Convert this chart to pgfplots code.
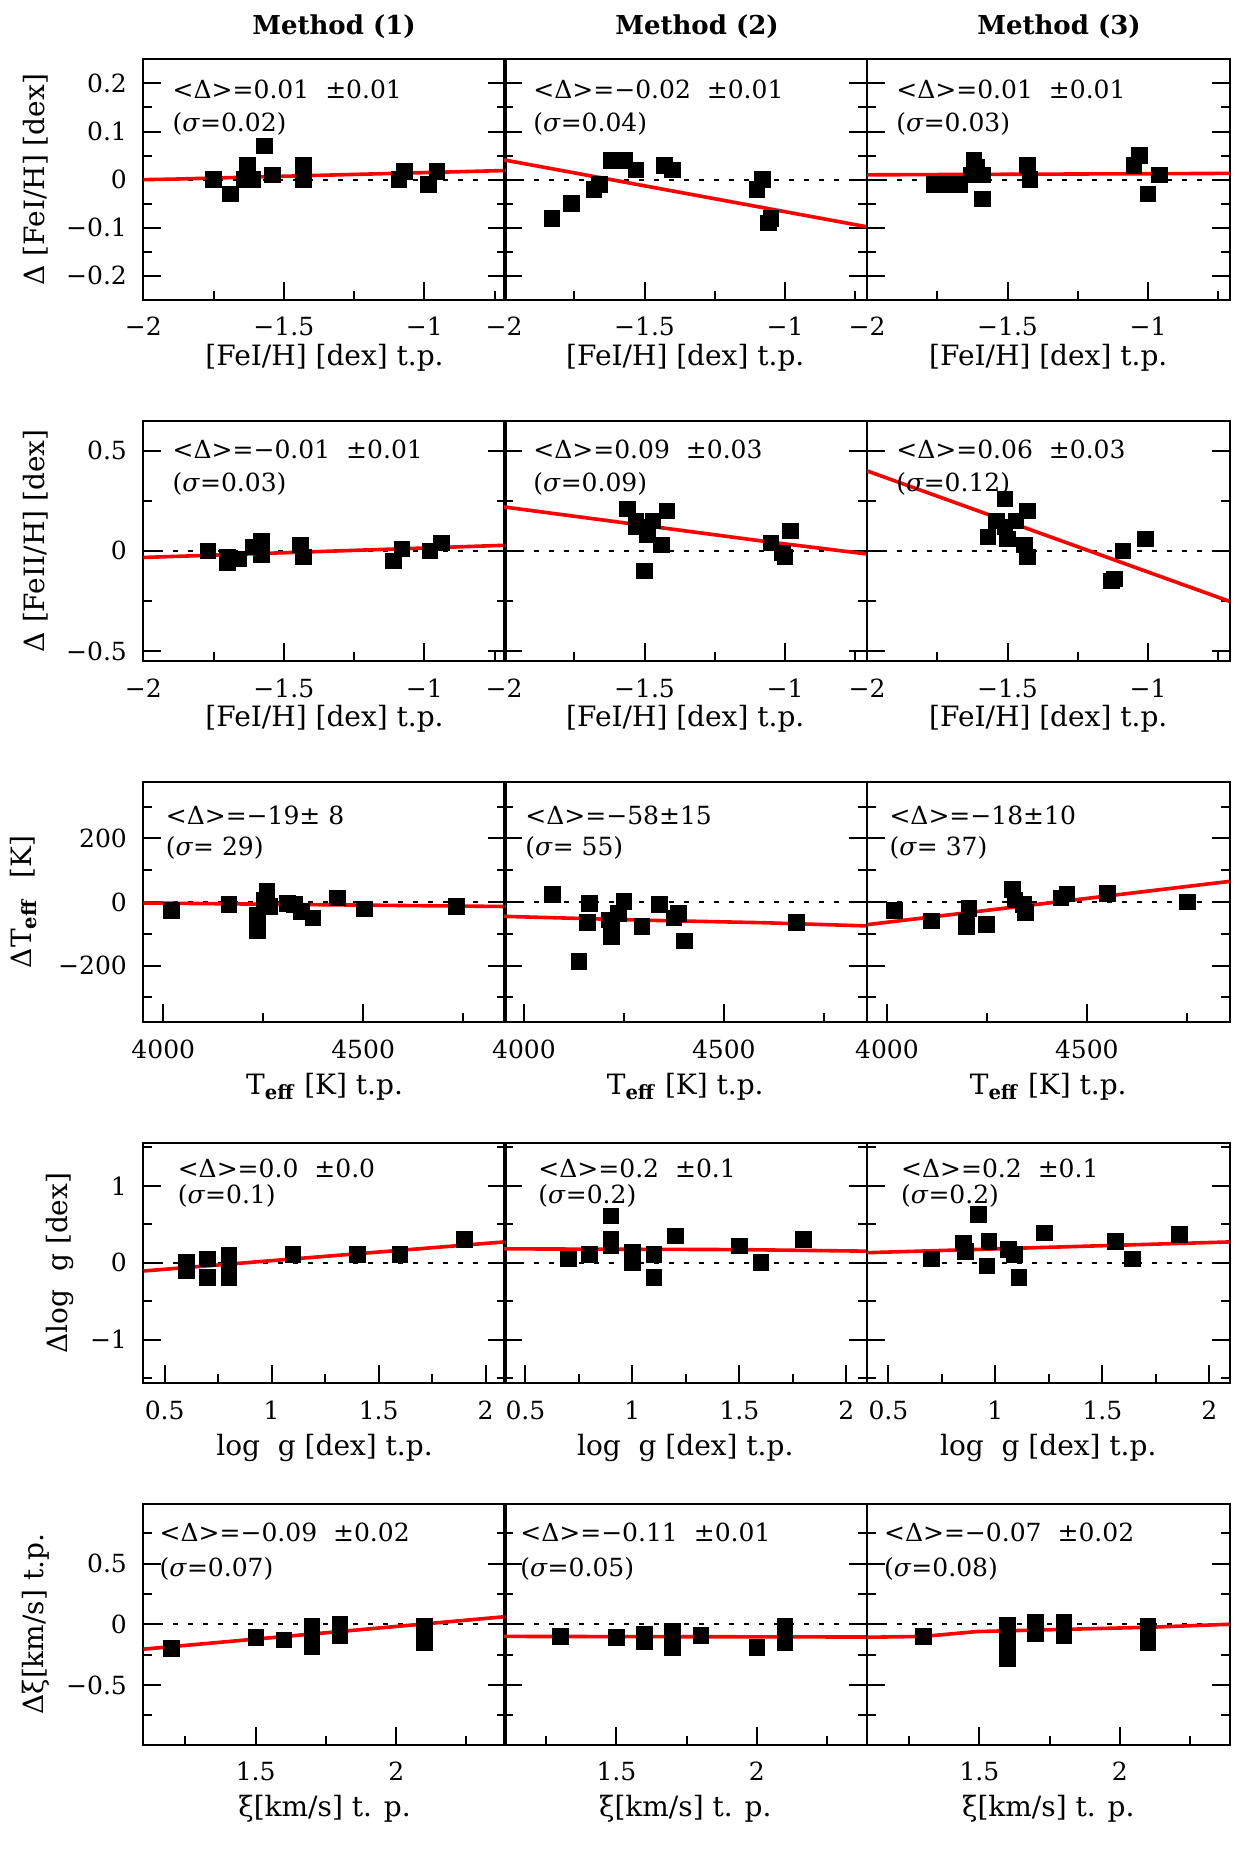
\documentclass[border=0pt]{standalone}
\usepackage{fontspec}
\setmainfont{DejaVu Serif}
\usepackage{pgfplots}
\pgfplotsset{compat=1.18}

\newcommand{\lbl}{\fontsize{12.5}{14}\selectfont}
\newcommand{\albl}{\fontsize{14}{16}\selectfont}
% two lines of statistics in a panel
\newcommand{\stats}[5]{%
  \node[annot] at (rel axis cs:#1,#2) {#4};
  \node[annot] at (rel axis cs:#1,#3) {#5};}

\tikzset{annot/.style={anchor=west, font=\lbl, inner sep=0pt}}

\pgfplotsset{
  panel/.style={
    scale only axis, width=181.25pt, height=120.25pt, anchor=north west,
    axis line style={line width=1pt},
    tick style={black, line width=1pt},
    major tick length=9pt, minor tick length=4.5pt,
    tick align=inside, xtick pos=bottom, ytick pos=both, yticklabel pos=left,
    xticklabel style={font=\lbl, inner sep=0pt},
    yticklabel style={font=\lbl, inner sep=0pt},
    xticklabel shift=8.5pt, yticklabel shift=8pt,
    label style={font=\albl},
    xlabel style={at={(axis description cs:0.5,-0.272)}, anchor=base},
    ylabel style={anchor=center},
  },
  later/.style={xlabel style={at={(axis description cs:0.5,-0.30)}}},
  noy/.style={yticklabels={}},
  zero/.style={black, line width=1.1pt, dash pattern=on 2.5pt off 5pt, no marks},
  fit/.style={red, line width=1.8pt, no marks},
  pts/.style={only marks, mark=square*, mark size=3.9pt, black},
  feh/.style={xmin=-2, xmax=-0.71, xtick={-2,-1.5,-1}, xticklabels={−2,−1.5,−1},
    minor xtick={-1.75,-1.25,-0.75}, xlabel={[FeI/H] [dex] t.p.}},
  rowone/.style={feh, ymin=-0.25, ymax=0.25, ytick={-0.2,-0.1,0,0.1,0.2},
    yticklabels={−0.2,−0.1,0,0.1,0.2}, minor ytick={-0.15,-0.05,0.05,0.15}},
  rowtwo/.style={feh, ymin=-0.55, ymax=0.65, ytick={-0.5,0,0.5},
    yticklabels={−0.5,0,0.5}, minor ytick={-0.25,0.25}},
  rowthree/.style={later, xmin=3950, xmax=4857, xtick={4000,4500}, xticklabels={4000,4500},
    minor xtick={4250,4750}, ymin=-378, ymax=378, ytick={-200,0,200},
    yticklabels={−200,0,200}, minor ytick={-300,-100,100,300},
    xlabel={T\textsubscript{\textbf{eff}} [K] t.p.}},
  rowfour/.style={later, xmin=0.4, xmax=2.094, xtick={0.5,1,1.5,2}, xticklabels={0.5,1,1.5,2},
    minor xtick={0.75,1.25,1.75}, ymin=-1.57, ymax=1.56, ytick={-1,0,1},
    yticklabels={−1,0,1}, minor ytick={-1.5,-0.5,0.5,1.5},
    xlabel={log\ \ g [dex] t.p.}},
  rowfive/.style={later, xmin=1.1, xmax=2.39, xtick={1.5,2}, xticklabels={1.5,2},
    minor xtick={1.25,1.75,2.25}, ymin=-0.99, ymax=0.99, ytick={-0.5,0,0.5},
    yticklabels={−0.5,0,0.5}, minor ytick={-0.75,-0.25,0.25,0.75},
    xlabel={ξ[km/s] t. p.}},
}

\begin{document}
\begin{tikzpicture}
\useasboundingbox (0,0) rectangle (622pt,-925pt);

\node[font=\bfseries\fontsize{13}{15}\selectfont] at (167pt,-13.5pt) {Method (1)};
\node[font=\bfseries\fontsize{13}{15}\selectfont] at (348.5pt,-13.5pt) {Method (2)};
\node[font=\bfseries\fontsize{13}{15}\selectfont] at (529.5pt,-13.5pt) {Method (3)};

% ---------------- row 1: Delta [FeI/H]
\begin{axis}[panel, rowone, at={(71.65pt,-29.7pt)},
  ylabel={Δ [FeI/H] [dex]}, ylabel style={at={(axis description cs:-0.298,0.5)}}]
\addplot[zero] coordinates {(-2,0) (-0.71,0)};
\addplot[fit] coordinates {(-2,0.0) (-1.9,0.001) (-0.71,0.019)};
\addplot[pts] coordinates {(-1.75,0.00) (-1.69,-0.03) (-1.63,0.03) (-1.64,0.00) (-1.61,0.00)
  (-1.57,0.07) (-1.54,0.01) (-1.43,0.03) (-1.43,0.00) (-1.07,0.017) (-1.09,0.00)
  (-0.985,-0.01) (-0.955,0.017)};
\stats{0.08}{0.875}{0.733}{<Δ>=0.01\hspace{8pt}±0.01}{(\textit{σ}=0.02)}
\end{axis}

\begin{axis}[panel, rowone, noy, at={(252pt,-29.7pt)}]
\addplot[zero] coordinates {(-2,0) (-0.71,0)};
\addplot[fit] coordinates {(-2,0.041) (-0.7,-0.099)};
\addplot[pts] coordinates {(-1.83,-0.08) (-1.76,-0.05) (-1.68,-0.02) (-1.66,-0.01) (-1.62,0.04)
  (-1.57,0.04) (-1.53,0.02) (-1.43,0.03) (-1.40,0.02) (-1.10,-0.02) (-1.08,0.00)
  (-1.06,-0.09) (-1.05,-0.08)};
\stats{0.08}{0.875}{0.733}{<Δ>=−0.02\hspace{8pt}±0.01}{(\textit{σ}=0.04)}
\end{axis}

\begin{axis}[panel, rowone, noy, at={(433.5pt,-29.7pt)}]
\addplot[zero] coordinates {(-2,0) (-0.71,0)};
\addplot[fit] coordinates {(-2,0.01) (-0.71,0.013)};
\addplot[pts] coordinates {(-1.76,-0.01) (-1.70,-0.01) (-1.67,-0.01) (-1.62,0.04) (-1.61,0.025)
  (-1.63,0.01) (-1.59,0.01) (-1.59,-0.04) (-1.43,0.03) (-1.42,0.00) (-1.05,0.03)
  (-1.03,0.05) (-1.00,-0.03) (-0.96,0.01)};
\stats{0.08}{0.875}{0.733}{<Δ>=0.01\hspace{8pt}±0.01}{(\textit{σ}=0.03)}
\end{axis}

% ---------------- row 2: Delta [FeII/H]
\begin{axis}[panel, rowtwo, at={(71.65pt,-210.3pt)},
  ylabel={Δ [FeII/H] [dex]}, ylabel style={at={(axis description cs:-0.298,0.5)}}]
\addplot[zero] coordinates {(-2,0) (-0.71,0)};
\addplot[fit] coordinates {(-2,-0.033) (-0.71,0.028)};
\addplot[pts] coordinates {(-1.77,0.00) (-1.70,-0.03) (-1.70,-0.06) (-1.66,-0.04) (-1.61,0.02)
  (-1.58,0.05) (-1.58,-0.02) (-1.44,0.03) (-1.43,-0.03) (-1.11,-0.05) (-1.08,0.01)
  (-0.98,0.00) (-0.94,0.04)};
\stats{0.08}{0.879}{0.738}{<Δ>=−0.01\hspace{8pt}±0.01}{(\textit{σ}=0.03)}
\end{axis}

\begin{axis}[panel, rowtwo, noy, at={(252pt,-210.3pt)}]
\addplot[zero] coordinates {(-2,0) (-0.71,0)};
\addplot[fit] coordinates {(-2,0.219) (-1.06,0.045) (-0.7,-0.017)};
\addplot[pts] coordinates {(-1.56,0.21) (-1.53,0.15) (-1.53,0.12) (-1.51,0.12) (-1.49,0.08)
  (-1.47,0.15) (-1.42,0.20) (-1.44,0.03) (-1.50,-0.10) (-1.05,0.04) (-1.01,-0.01)
  (-1.00,-0.03) (-0.98,0.10)};
\stats{0.08}{0.879}{0.738}{<Δ>=0.09\hspace{8pt}±0.03}{(\textit{σ}=0.09)}
\end{axis}

\begin{axis}[panel, rowtwo, noy, at={(433.5pt,-210.3pt)}]
\addplot[zero] coordinates {(-2,0) (-0.71,0)};
\addplot[fit] coordinates {(-2,0.399) (-0.706,-0.254)};
\addplot[pts] coordinates {(-1.51,0.26) (-1.57,0.07) (-1.54,0.15) (-1.51,0.12) (-1.50,0.06)
  (-1.47,0.15) (-1.43,0.20) (-1.44,0.03) (-1.43,-0.03) (-1.13,-0.15) (-1.12,-0.14)
  (-1.09,0.00) (-1.01,0.06)};
\stats{0.08}{0.879}{0.738}{<Δ>=0.06\hspace{8pt}±0.03}{(\textit{σ}=0.12)}
\end{axis}

% ---------------- row 3: Delta Teff
\begin{axis}[panel, rowthree, at={(71.65pt,-390.9pt)},
  ylabel={ΔT\textsubscript{\textbf{eff}}\hspace{10pt}[K]}, ylabel style={at={(axis description cs:-0.33,0.5)}}]
\addplot[zero] coordinates {(3950,0) (4857,0)};
\addplot[fit] coordinates {(3950,-3) (4857,-14)};
\addplot[pts] coordinates {(4021,-26) (4164,-8) (4235,-40) (4235,-90) (4259,34) (4252,7)
  (4267,-14) (4311,-5) (4328,-8) (4345,-29) (4374,-50) (4435,13) (4503,-22) (4733,-14)};
\stats{0.061}{0.86}{0.725}{<Δ>=−19± 8}{(\textit{σ}= 29)}
\end{axis}

\begin{axis}[panel, rowthree, noy, at={(252pt,-390.9pt)}]
\addplot[zero] coordinates {(3950,0) (4857,0)};
\addplot[fit] coordinates {(3950,-45) (4300,-57) (4600,-65) (4857,-75)};
\addplot[pts] coordinates {(4071,25) (4137,-187) (4158,-64) (4164,-5) (4214,-56) (4218,-108)
  (4218,-82) (4236,-35) (4250,2) (4295,-77) (4339,-8) (4375,-50) (4387,-35)
  (4402,-122) (4682,-64)};
\stats{0.058}{0.86}{0.725}{<Δ>=−58±15}{(\textit{σ}= 55)}
\end{axis}

\begin{axis}[panel, rowthree, noy, at={(433.5pt,-390.9pt)}]
\addplot[zero] coordinates {(3950,0) (4857,0)};
\addplot[fit] coordinates {(3950,-71) (4857,65)};
\addplot[pts] coordinates {(4018,-26) (4111,-59) (4199,-61) (4205,-19) (4199,-77) (4248,-71)
  (4314,39) (4320,7) (4341,-8) (4347,-33) (4435,13) (4450,26) (4552,28) (4752,0)};
\stats{0.061}{0.86}{0.725}{<Δ>=−18±10}{(\textit{σ}= 37)}
\end{axis}

% ---------------- row 4: Delta log g
\begin{axis}[panel, rowfour, at={(71.65pt,-571.4pt)},
  ylabel={Δlog\ \ g [dex]}, ylabel style={at={(axis description cs:-0.229,0.5)}}]
\addplot[zero] coordinates {(0.4,0) (2.094,0)};
\addplot[fit] coordinates {(0.401,-0.108) (2.094,0.272)};
\addplot[pts] coordinates {(0.60,0.00) (0.60,-0.10) (0.70,0.05) (0.70,-0.19) (0.80,0.10)
  (0.80,-0.05) (0.80,-0.19) (1.10,0.11) (1.40,0.11) (1.60,0.11) (1.90,0.30)};
\stats{0.094}{0.895}{0.78}{<Δ>=0.0\hspace{8pt}±0.0}{(\textit{σ}=0.1)}
\end{axis}

\begin{axis}[panel, rowfour, noy, at={(252pt,-571.4pt)}]
\addplot[zero] coordinates {(0.4,0) (2.094,0)};
\addplot[fit] coordinates {(0.4,0.18) (1.5,0.17) (2.094,0.15)};
\addplot[pts] coordinates {(0.70,0.05) (0.80,0.11) (0.90,0.61) (0.90,0.30) (0.90,0.22)
  (1.00,0.13) (1.00,0.00) (1.10,0.11) (1.10,-0.19) (1.20,0.35) (1.50,0.22)
  (1.60,0.00) (1.80,0.30)};
\stats{0.094}{0.895}{0.78}{<Δ>=0.2\hspace{8pt}±0.1}{(\textit{σ}=0.2)}
\end{axis}

\begin{axis}[panel, rowfour, noy, at={(433.5pt,-571.4pt)}]
\addplot[zero] coordinates {(0.4,0) (2.094,0)};
\addplot[fit] coordinates {(0.4,0.13) (2.094,0.27)};
\addplot[pts] coordinates {(0.70,0.05) (0.85,0.26) (0.86,0.15) (0.92,0.63) (0.97,0.28)
  (0.96,-0.04) (1.06,0.17) (1.09,0.11) (1.11,-0.19) (1.23,0.39) (1.56,0.28)
  (1.64,0.05) (1.86,0.37)};
\stats{0.093}{0.895}{0.78}{<Δ>=0.2\hspace{8pt}±0.1}{(\textit{σ}=0.2)}
\end{axis}

% ---------------- row 5: Delta xi
\begin{axis}[panel, rowfive, at={(71.65pt,-752pt)},
  ylabel={Δξ[km/s] t.p.}, ylabel style={at={(axis description cs:-0.296,0.5)}}]
\addplot[zero] coordinates {(1.1,0) (2.39,0)};
\addplot[fit] coordinates {(1.1,-0.205) (2.39,0.063)};
\addplot[pts] coordinates {(1.20,-0.20) (1.50,-0.11) (1.60,-0.13) (1.70,-0.02) (1.70,-0.10)
  (1.70,-0.18) (1.80,0.00) (1.80,-0.09) (2.10,-0.02) (2.10,-0.15)};
\stats{0.044}{0.882}{0.73}{<Δ>=−0.09\hspace{8pt}±0.02}{(\textit{σ}=0.07)}
\end{axis}

\begin{axis}[panel, rowfive, noy, at={(252pt,-752pt)}]
\addplot[zero] coordinates {(1.1,0) (2.39,0)};
\addplot[fit] coordinates {(1.1,-0.10) (2.39,-0.105)};
\addplot[pts] coordinates {(1.30,-0.10) (1.50,-0.11) (1.60,-0.08) (1.60,-0.14) (1.70,-0.06)
  (1.70,-0.19) (1.80,-0.09) (2.00,-0.19) (2.10,-0.02) (2.10,-0.15)};
\stats{0.044}{0.882}{0.73}{<Δ>=−0.11\hspace{8pt}±0.01}{(\textit{σ}=0.05)}
\end{axis}

\begin{axis}[panel, rowfive, noy, at={(433.5pt,-752pt)}]
\addplot[zero] coordinates {(1.1,0) (2.39,0)};
\addplot[fit] coordinates {(1.1,-0.107) (1.3,-0.10) (1.49,-0.06) (2.1,-0.025) (2.39,0.0)};
\addplot[pts] coordinates {(1.30,-0.10) (1.60,-0.01) (1.60,-0.14) (1.60,-0.28) (1.70,0.02)
  (1.70,-0.08) (1.80,0.02) (1.80,-0.09) (2.10,-0.02) (2.10,-0.15)};
\stats{0.046}{0.882}{0.73}{<Δ>=−0.07\hspace{8pt}±0.02}{(\textit{σ}=0.08)}
\end{axis}

\end{tikzpicture}
\end{document}
